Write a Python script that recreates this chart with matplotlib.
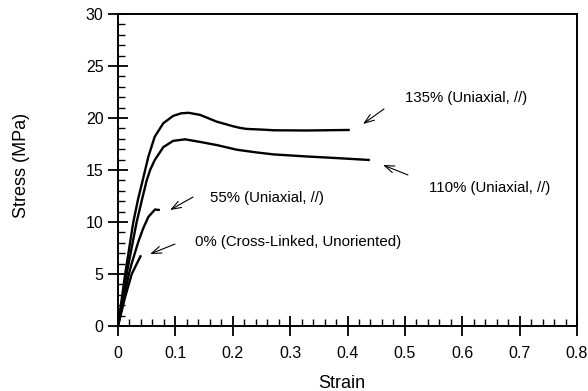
import matplotlib
matplotlib.use("Agg")
import matplotlib.pyplot as plt
from matplotlib.ticker import MultipleLocator

plt.rcParams['font.family'] = ['Liberation Sans', 'DejaVu Sans']

# Stress-strain curves
x135 = [0, 0.0125, 0.0267, 0.035, 0.043, 0.053, 0.064, 0.079, 0.096, 0.110, 0.123,
        0.143, 0.172, 0.201, 0.2125, 0.224, 0.253, 0.271, 0.33, 0.404]
y135 = [0, 5.0, 10.0, 12.2, 14.0, 16.3, 18.2, 19.5, 20.2, 20.45, 20.5,
        20.3, 19.65, 19.2, 19.05, 18.95, 18.88, 18.82, 18.8, 18.85]

x110 = [0, 0.015, 0.0325, 0.042, 0.050, 0.056, 0.064, 0.079, 0.096, 0.117, 0.143,
        0.172, 0.207, 0.24, 0.271, 0.329, 0.38, 0.439]
y110 = [0, 5.0, 10.0, 12.2, 14.0, 15.0, 15.95, 17.2, 17.8, 17.95, 17.7,
        17.4, 16.95, 16.7, 16.5, 16.3, 16.15, 15.96]

x55 = [0, 0.019, 0.0238, 0.0354, 0.044, 0.053, 0.0645, 0.073]
y55 = [0, 5.0, 6.0, 8.1, 9.4, 10.5, 11.2, 11.15]

x0 = [0, 0.012, 0.024, 0.040]
y0 = [0, 2.7, 5.0, 6.8]

labels = ["135% (Uniaxial, //)", "110% (Uniaxial, //)", "55% (Uniaxial, //)",
          "0% (Cross-Linked, Unoriented)"]
label_xy = [(0.500, 21.9), (0.542, 13.27), (0.160, 12.3), (0.134, 8.08)]
arrow_tail = [(0.4636, 20.87), (0.5054, 14.52), (0.1307, 12.4), (0.0993, 7.88)]
arrow_head = [(0.427, 19.42), (0.4619, 15.48), (0.0906, 11.15), (0.0558, 6.92)]

fig = plt.figure(figsize=(5.88, 3.91), dpi=100)
ax = fig.add_axes([118/588, 1-326/391, (577-118)/588, (326-14)/391])

for xs, ys in [(x135, y135), (x110, y110), (x55, y55), (x0, y0)]:
    ax.plot(xs, ys, color='black', lw=1.7, solid_capstyle='butt',
            solid_joinstyle='round')

for txt, (tx, ty) in zip(labels, label_xy):
    ax.text(tx, ty, txt, fontsize=10.8, ha='left', va='center')

for (tx, ty), (hx, hy) in zip(arrow_tail, arrow_head):
    ax.annotate("", xy=(hx, hy), xytext=(tx, ty),
                arrowprops=dict(arrowstyle="->,head_length=0.7,head_width=0.25",
                                color='black', lw=0.8, shrinkA=0, shrinkB=0))

ax.set_xlim(0, 0.8)
ax.set_ylim(0, 30)
ax.xaxis.set_minor_locator(MultipleLocator(0.02))
ax.yaxis.set_major_locator(MultipleLocator(5))
ax.yaxis.set_minor_locator(MultipleLocator(1))
ax.set_xticks([0, 0.1, 0.2, 0.3, 0.4, 0.5, 0.6, 0.7, 0.8])
ax.set_xticklabels(["0", "0.1", "0.2", "0.3", "0.4", "0.5", "0.6", "0.7", "0.8"])

ax.tick_params(which='major', direction='inout', length=15, width=1.3, labelsize=11.5)
ax.tick_params(axis='x', which='major', pad=7)
ax.tick_params(axis='y', which='major', pad=3)
ax.tick_params(which='minor', direction='in', length=5, width=1.0)
for s in ax.spines.values():
    s.set_linewidth(1.4)

ax.set_xlabel("Strain", fontsize=13)
ax.xaxis.set_label_coords((342-118)/459, -(383-326)/312, transform=ax.transAxes)
ax.set_ylabel("Stress (MPa)", fontsize=13)
ax.yaxis.set_label_coords(-(118-22)/459, (326-165)/312)
ax.xaxis.label.set_va('center')
ax.yaxis.label.set_va('center')

fig.savefig("out.png", dpi=100)
